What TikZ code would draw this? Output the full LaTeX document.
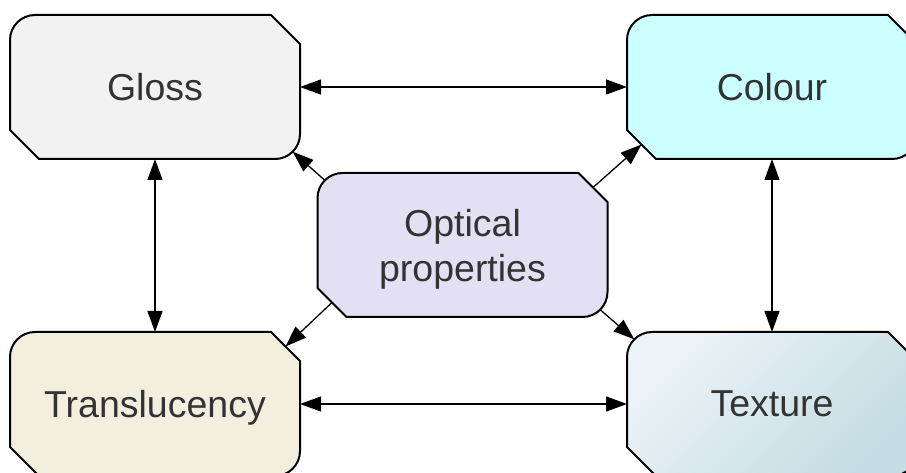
\documentclass[tikz,border=0pt]{standalone}
\usepackage{fontspec}
\setmainfont{Liberation Sans}
\usetikzlibrary{arrows.meta,calc,backgrounds}
\definecolor{txt}{HTML}{333333}
\definecolor{glossfill}{HTML}{F2F2F2}
\definecolor{colourfill}{HTML}{CCFFFF}
\definecolor{optfill}{HTML}{E3E0F4}
\definecolor{transfill}{HTML}{F2EFDF}
\definecolor{texlight}{HTML}{ECF3F7}
\definecolor{texdark}{HTML}{C4DCE3}
\tikzset{
  x=1pt,y=1pt,
  boxnode/.style={rectangle, draw=none, minimum width=290pt, minimum height=144pt,
    inner sep=0pt, outer sep=0pt, align=center, text=txt, text depth=0pt,
    font=\fontsize{37.5}{45}\selectfont},
  boxline/.style={draw=black, line width=2pt, line join=round},
  conn/.style={draw=black, line width=1.3pt},
  tip/.tip={Triangle[length=21pt,width=15pt]},
  biarrow/.style={conn, tip-tip},
  oneway/.style={conn, -tip}
}
\newcommand{\octpath}[2]{%
  \path[boxline,#2] ($(#1.south west)+(0,29)$) -- ($(#1.north west)+(0,-25)$)
    arc[start angle=180,end angle=90,radius=25]
    -- ($(#1.north east)+(-29,0)$) -- ($(#1.north east)+(0,-29)$)
    -- ($(#1.south east)+(0,25)$)
    arc[start angle=0,end angle=-90,radius=25]
    -- ($(#1.south west)+(29,0)$) -- cycle;}
\begin{document}
\begin{tikzpicture}
\useasboundingbox (0,0) rectangle (906,472);
\clip (0,0) rectangle (906,472);
\node[boxnode] (g) at (155,385) {Gloss};
\node[boxnode] (c) at (772,385) {Colour};
\node[boxnode] (o) at (462.5,227) {Optical\\properties};
\node[boxnode] (t) at (155,68) {Translucency};
\node[boxnode] (x) at (772,68) {Texture};
\begin{scope}[on background layer]
\octpath{g}{fill=glossfill}
\octpath{c}{fill=colourfill}
\octpath{o}{fill=optfill}
\octpath{t}{fill=transfill}
\octpath{x}{top color=texlight,bottom color=texdark,shading angle=45}
\end{scope}
\draw[biarrow] (g.east) -- (c.west);
\draw[biarrow] (t.east) -- (x.west);
\draw[biarrow] (g.south) -- (t.north);
\draw[biarrow] (c.south) -- (x.north);
\draw[oneway] ($(o.north west)+(7.3,-7.3)$) -- ($(g.south east)+(-7.3,7.3)$);
\draw[oneway] ($(o.north east)+(-14.5,-14.5)$) -- ($(c.south west)+(14.5,14.5)$);
\draw[oneway] ($(o.south west)+(14.5,14.5)$) -- ($(t.north east)+(-14.5,-14.5)$);
\draw[oneway] ($(o.south east)+(-7.3,7.3)$) -- ($(x.north west)+(7.3,-7.3)$);
\end{tikzpicture}
\end{document}
